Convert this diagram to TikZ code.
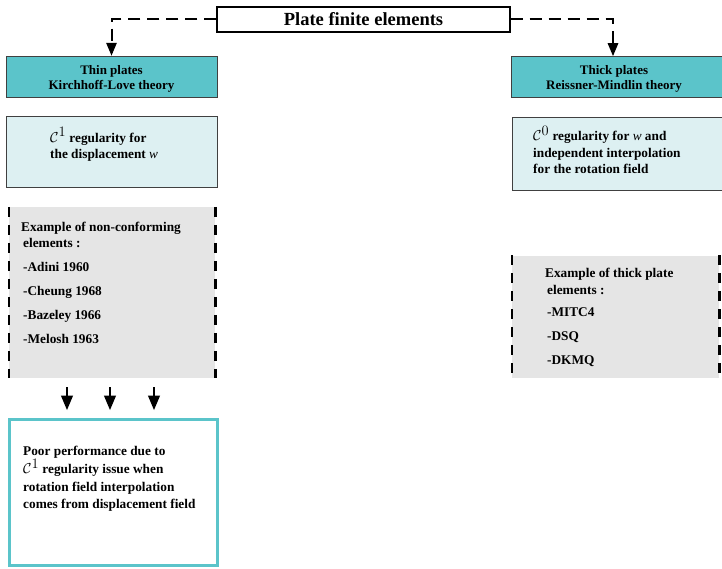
\documentclass[tikz,border=0pt]{standalone}
\usepackage{fontspec}
\setmainfont{Liberation Serif}
\usepackage{xcolor}
\usepackage{tikz}
\usetikzlibrary{shapes.geometric, arrows, positioning}
\definecolor{headteal}{RGB}{91,196,202}
\definecolor{paleblue}{RGB}{221,240,242}
\definecolor{boxgray}{RGB}{229,229,229}
\newcommand{\regc}[1]{$\mathcal{C}^{\textstyle #1}$}
\tikzstyle{title} = [rectangle, minimum width=293pt, minimum height=25pt, text centered, draw=black, line width=1.4pt, fill=white, font=\fontsize{18.5}{21}\selectfont\bfseries]
\tikzstyle{head} = [rectangle, minimum height=41pt, align=center, draw=black!75, line width=0.8pt, fill=headteal, font=\fontsize{13}{15}\selectfont\bfseries]
\tikzstyle{reg} = [rectangle, draw=black!75, line width=0.8pt, fill=paleblue]
\tikzstyle{exa} = [rectangle, fill=boxgray]
\tikzstyle{poor} = [rectangle, draw=headteal, line width=3pt, fill=white]
\tikzstyle{txt} = [anchor=north west, align=left, inner sep=0pt, font=\fontsize{13.3}{16.3}\selectfont\bfseries]
\tikzstyle{item} = [txt, text height=9pt, text depth=3pt]
\tikzstyle{side} = [line width=2.6pt, dash pattern=on 10pt off 8pt]
\tikzstyle{link} = [line width=2pt, dash pattern=on 12pt off 7pt, ->, >=triangle 45]
\tikzstyle{arrow} = [line width=2.4pt, ->, >=triangle 45]

\begin{document}
\begin{tikzpicture}[x=1pt, y=-1pt]
\useasboundingbox (0,0) rectangle (722,569);

\node (pfe) [title] at (363.5,19.5) {Plate finite elements};

\node (thin) [head, minimum width=211pt] at (111.5,76.5) {\rule{0pt}{13pt}Thin plates\\Kirchhoff-Love theory};
\node (thick) [head, minimum width=214pt] at (618,76.5) {\hspace*{-8pt}\rule{0pt}{13pt}Thick plates\\\hspace*{-8pt}Reissner-Mindlin theory};
\coordinate (thicktop) at (613,56);

\node (reg1) [reg, minimum width=211pt, minimum height=71pt] at (111.5,152) {};
\node (reg0) [reg, minimum width=212pt, minimum height=73pt] at (618,153.5) {};
\node (reg1txt) [txt] at (50,127.5) {\regc{1} regularity for\\the displacement \textmd{\itshape w}};
\node (reg0txt) [txt] at (533,126) {\regc{0} regularity for \textmd{\itshape w} and\\independent interpolation\\for the rotation field};

% examples
\node (nonconf) [exa, minimum width=206pt, minimum height=171pt] at (112,292.5) {};
\node (thickex) [exa, minimum width=207pt, minimum height=122pt] at (615.5,316.5) {};
\draw [side] (nonconf.north west) -- (nonconf.south west);
\draw [side] (nonconf.north east) -- (nonconf.south east);
\draw [side] (thickex.north west) -- (thickex.south west);
\draw [side] (thickex.north east) -- (thickex.south east);

\node (nonconftxt) [txt] at (21,221.5) {Example of non-conforming\\\hspace*{2pt}elements :};
\node (adini) [item] at (23,262.5) {-Adini 1960};
\node (cheung) [item, below=11.5pt of adini.south west, anchor=north west] {-Cheung 1968};
\node (bazeley) [item, below=11.5pt of cheung.south west, anchor=north west] {-Bazeley 1966};
\node (melosh) [item, below=11.5pt of bazeley.south west, anchor=north west] {-Melosh 1963};

\node (thickextxt) [txt, font=\fontsize{13.3}{17}\selectfont\bfseries] at (545,267.5) {Example of thick plate\\\hspace*{2pt}elements :};
\node (mitc) [item] at (547,307.5) {-MITC4};
\node (dsq) [item, below=11.5pt of mitc.south west, anchor=north west] {-DSQ};
\node (dkmq) [item, below=11.5pt of dsq.south west, anchor=north west] {-DKMQ};

% poor performance
\node (perf) [poor, minimum width=208pt, minimum height=146pt] at (113,492.5) {};
\node (perftxt) [txt, font=\fontsize{13.3}{17.3}\selectfont\bfseries] at (23,446) {Poor performance due to\\\regc{1} regularity issue when\\rotation field interpolation\\comes from displacement field};

\coordinate (a1) at (67,387);
\coordinate (a2) at (110,387);
\coordinate (a3) at (154,387);
\coordinate (b1) at (67,410);
\coordinate (b2) at (110,410);
\coordinate (b3) at (154,410);
\draw [arrow] (a1) -- (b1);
\draw [arrow] (a2) -- (b2);
\draw [arrow] (a3) -- (b3);

\draw [link] (pfe.west) -| (thin.north);
\draw [link] (pfe.east) -| (thicktop);

\end{tikzpicture}
\end{document}
